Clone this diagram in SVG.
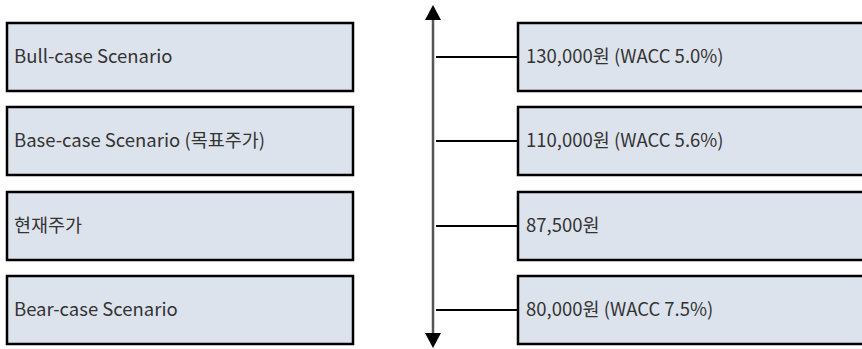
<svg xmlns="http://www.w3.org/2000/svg" width="862" height="349" viewBox="0 0 862 349">
<style>
.box{fill:#dde3ed;stroke:#000;stroke-width:2.5}
.t{font-family:"Noto Sans CJK KR","Noto Sans",sans-serif;font-size:18.5px;fill:#333}
.c{stroke:#000;stroke-width:2;fill:none}
.axis{stroke:#555;stroke-width:2.5;fill:none}
</style>
<rect width="862" height="349" fill="#fff"/>
<g id="bull"><rect class="box" x="7" y="23" width="346" height="68"/><text class="t" x="14" y="63">Bull-case Scenario</text></g>
<g id="base"><rect class="box" x="7" y="107" width="346" height="68"/><text class="t" x="14" y="147">Base-case Scenario (목표주가)</text></g>
<g id="current"><rect class="box" x="7" y="192" width="346" height="68"/><text class="t" x="14" y="232">현재주가</text></g>
<g id="bear"><rect class="box" x="7" y="276" width="346" height="68"/><text class="t" x="14" y="316">Bear-case Scenario</text></g>
<g id="v1"><rect class="box" x="518" y="23" width="360" height="68"/><text class="t" x="526" y="63">130,000원 (WACC 5.0%)</text></g>
<g id="v2"><rect class="box" x="518" y="107" width="360" height="68"/><text class="t" x="526" y="147">110,000원 (WACC 5.6%)</text></g>
<g id="v3"><rect class="box" x="518" y="192" width="360" height="68"/><text class="t" x="526" y="232">87,500원</text></g>
<g id="v4"><rect class="box" x="518" y="276" width="360" height="68"/><text class="t" x="526" y="316">80,000원 (WACC 7.5%)</text></g>
<g id="connectors">
<line class="axis" x1="433" y1="18" x2="433" y2="335"/>
<polygon points="433,5 425,20 441,20" fill="#000"/>
<polygon points="433,348 425,333 441,333" fill="#000"/>
<line class="c" x1="436" y1="57" x2="518" y2="57"/>
<line class="c" x1="436" y1="141" x2="518" y2="141"/>
<line class="c" x1="436" y1="226" x2="518" y2="226"/>
<line class="c" x1="436" y1="310" x2="518" y2="310"/>
</g>
</svg>
